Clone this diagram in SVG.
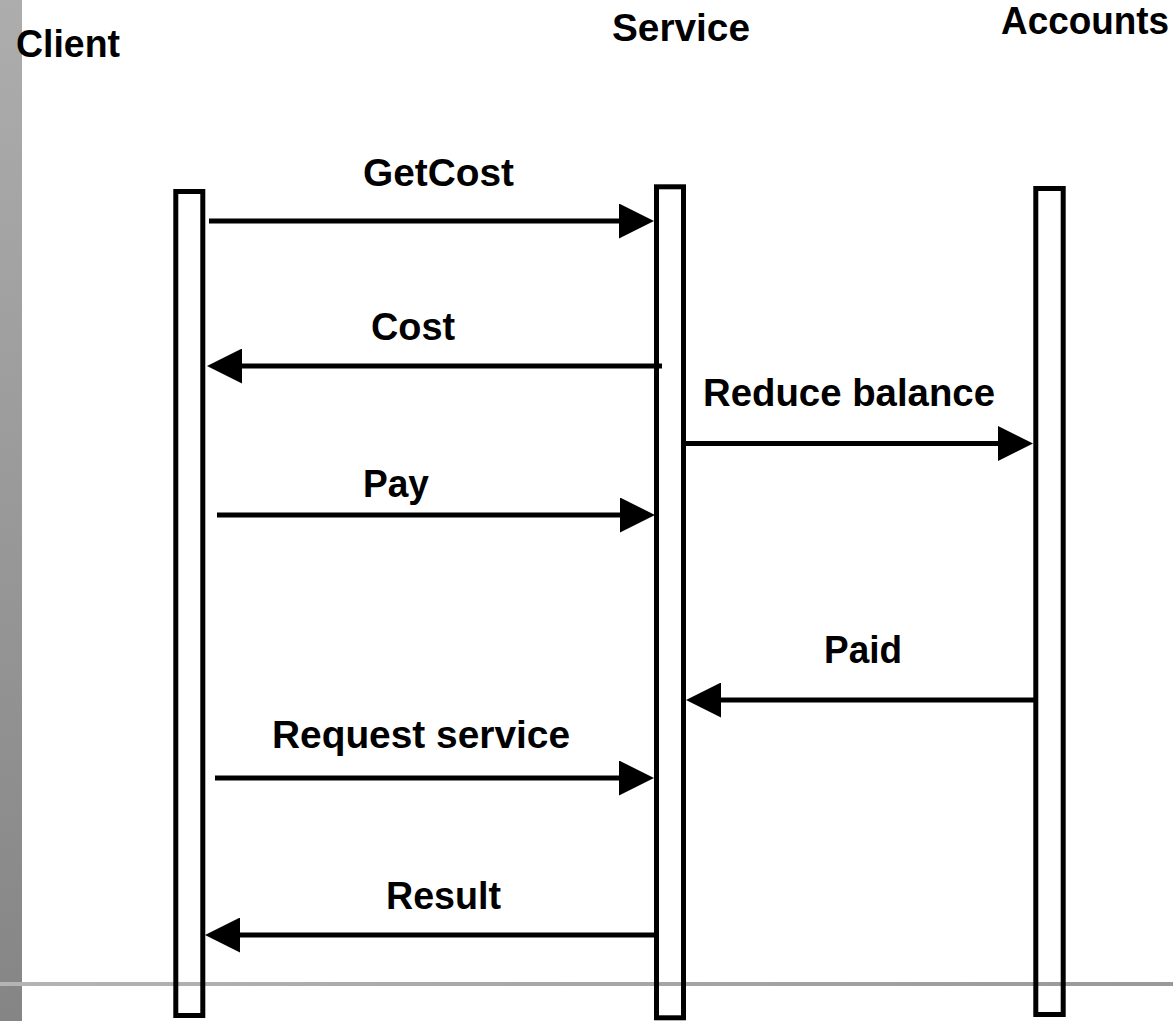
<svg xmlns="http://www.w3.org/2000/svg" width="1173" height="1021" viewBox="0 0 1173 1021">
<style>
.lbl{font-family:"Liberation Sans",Arial,sans-serif;font-weight:bold;font-size:38px;fill:#000}
.life{fill:none;stroke:#000;stroke-width:5}
.msg{stroke:#000;stroke-width:5;fill:none;marker-end:url(#ah)}
</style>
<defs>
<linearGradient id="bar" x1="0" y1="0" x2="0" y2="1">
<stop offset="0" stop-color="#adadad"/>
<stop offset="1" stop-color="#858585"/>
</linearGradient>
<linearGradient id="rule" x1="0" y1="0" x2="1" y2="0">
<stop offset="0" stop-color="#b4b4b4"/>
<stop offset="1" stop-color="#999999"/>
</linearGradient>
<marker id="ah" markerUnits="userSpaceOnUse" markerWidth="35" markerHeight="35" refX="5" refY="17.5" orient="auto" viewBox="0 0 35 35">
<path d="M0,0 L35,17.5 L0,35 z" fill="#000"/>
</marker>
</defs>
<rect x="0" y="0" width="1173" height="1021" fill="#fff"/>
<rect x="0" y="0" width="22" height="1021" fill="url(#bar)"/>
<rect x="0" y="982" width="1173" height="4" fill="url(#rule)"/>
<g id="client">
<text class="lbl" x="16" y="57" textLength="104" lengthAdjust="spacingAndGlyphs">Client</text>
<rect class="life" x="175.8" y="191.5" width="27" height="824"/>
</g>
<g id="service">
<text class="lbl" x="612" y="41" textLength="138" lengthAdjust="spacingAndGlyphs">Service</text>
<rect class="life" x="656.5" y="186.8" width="27" height="831"/>
</g>
<g id="accounts">
<text class="lbl" x="1001" y="34" textLength="168" lengthAdjust="spacingAndGlyphs">Accounts</text>
<rect class="life" x="1035.8" y="188.5" width="27.4" height="826"/>
</g>
<g id="connectors">
<line class="msg" x1="209" y1="221" x2="624" y2="221"/>
<text class="lbl" x="363" y="186" textLength="151" lengthAdjust="spacingAndGlyphs">GetCost</text>
<line class="msg" x1="662" y1="366" x2="237" y2="366"/>
<text class="lbl" x="371" y="340" textLength="84" lengthAdjust="spacingAndGlyphs">Cost</text>
<line class="msg" x1="685" y1="443.5" x2="1003" y2="443.5"/>
<text class="lbl" x="703" y="406" textLength="292" lengthAdjust="spacingAndGlyphs">Reduce balance</text>
<line class="msg" x1="217" y1="515" x2="625" y2="515"/>
<text class="lbl" x="363" y="497" textLength="66" lengthAdjust="spacingAndGlyphs">Pay</text>
<line class="msg" x1="1035" y1="700" x2="716" y2="700"/>
<text class="lbl" x="824" y="663" textLength="78" lengthAdjust="spacingAndGlyphs">Paid</text>
<line class="msg" x1="215" y1="778" x2="624" y2="778"/>
<text class="lbl" x="272" y="748" textLength="298" lengthAdjust="spacingAndGlyphs">Request service</text>
<line class="msg" x1="655" y1="935" x2="235" y2="935"/>
<text class="lbl" x="386" y="909" textLength="115" lengthAdjust="spacingAndGlyphs">Result</text>
</g>
</svg>
